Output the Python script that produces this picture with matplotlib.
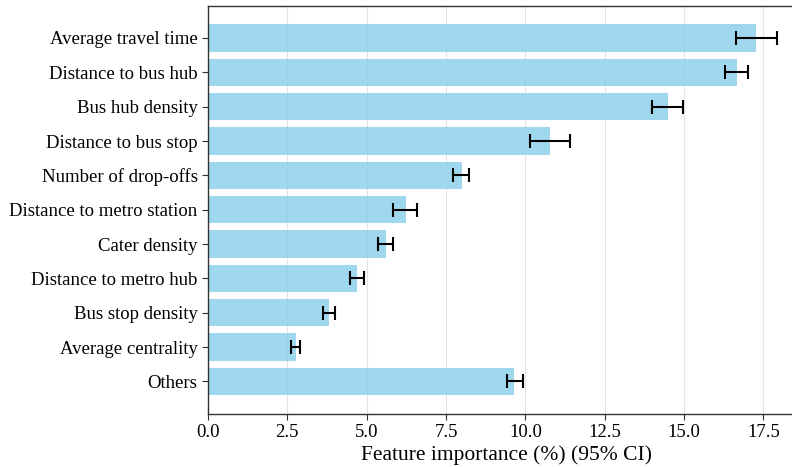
import matplotlib
matplotlib.use("Agg")
import matplotlib.pyplot as plt
import numpy as np

# Feature importance with 95% confidence intervals
features = [
    "Average travel time",
    "Distance to bus hub",
    "Bus hub density",
    "Distance to bus stop",
    "Number of drop-offs",
    "Distance to metro station",
    "Cater density",
    "Distance to metro hub",
    "Bus stop density",
    "Average centrality",
    "Others",
]
importance = [17.28, 16.68, 14.48, 10.77, 7.99, 6.23, 5.60, 4.70, 3.82, 2.76, 9.65]
ci_low = [16.63, 16.28, 14.00, 10.15, 7.71, 5.84, 5.37, 4.48, 3.62, 2.62, 9.41]
ci_high = [17.92, 17.03, 14.96, 11.40, 8.24, 6.60, 5.82, 4.93, 4.01, 2.89, 9.94]

plt.rcParams["font.family"] = ["Liberation Serif", "DejaVu Serif"]

imp = np.array(importance)
xerr = np.vstack([imp - np.array(ci_low), np.array(ci_high) - imp])
y = np.arange(len(features))

fig = plt.figure(figsize=(7.92, 4.67), dpi=100)
ax = fig.add_axes([0.2626, 0.1141, 0.754, 0.8737])

ax.grid(axis="x", color="#e3e3e3", linewidth=0.8, zorder=0)
ax.set_axisbelow(True)
ax.barh(y, imp, height=0.8, color="skyblue", alpha=0.8, zorder=2,
        xerr=xerr, capsize=5,
        error_kw=dict(ecolor="black", elinewidth=1.5, capthick=1.5, zorder=3))

ax.set_yticks(y)
ax.set_yticklabels(features)
ax.invert_yaxis()
ax.set_xlabel("Feature importance (%) (95% CI)", fontsize=15.5, labelpad=3)
ax.tick_params(axis="y", labelsize=13.5)
ax.tick_params(axis="x", labelsize=13.5)
ax.tick_params(axis="both", color="#333333", length=4)

for side in ["left", "bottom", "top", "right"]:
    ax.spines[side].set_color("#333333")
    ax.spines[side].set_linewidth(1.0)

fig.savefig("out.png", dpi=100)
